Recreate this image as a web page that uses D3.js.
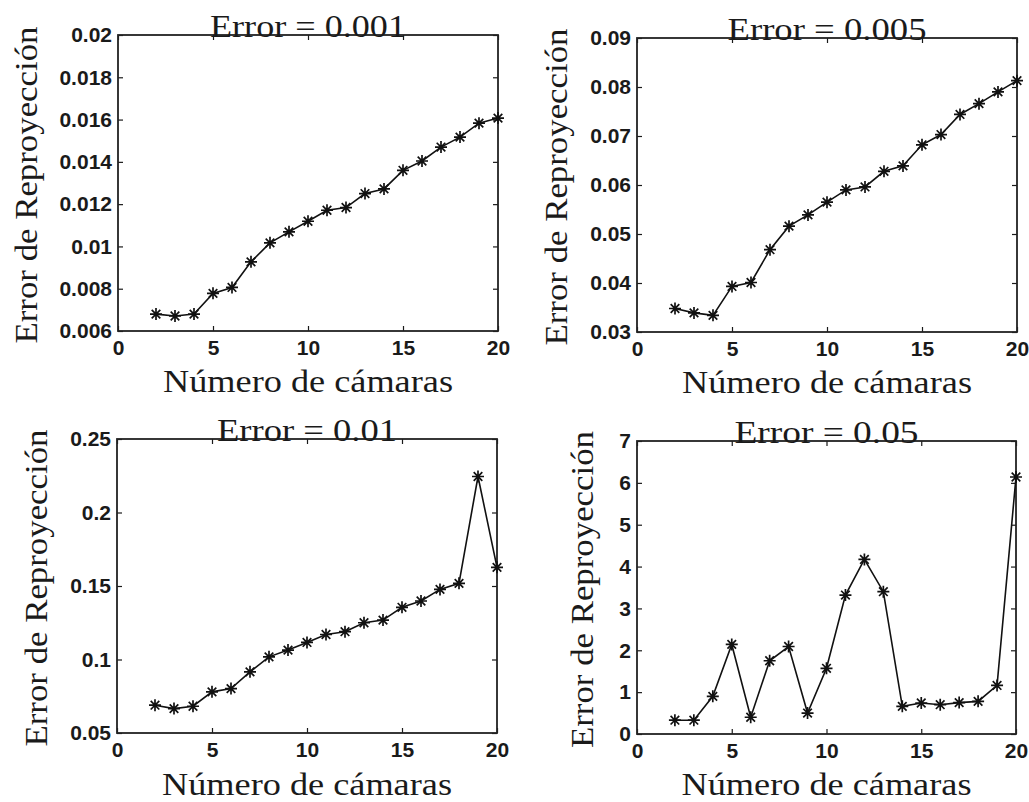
<!DOCTYPE html>
<html>
<head>
<meta charset="utf-8">
<script src="https://cdn.jsdelivr.net/npm/d3@7"></script>
<style>
  body { margin: 0; background: #fff; }
  svg { display: block; }
</style>
</head>
<body>
<script>
// numero de camaras en cada prueba
const camaras = [2, 3, 4, 5, 6, 7, 8, 9, 10, 11, 12, 13, 14, 15, 16, 17, 18, 19, 20];

// error de reproyeccion medio para cada nivel de ruido
const err0001 = [0.0068, 0.00671, 0.0068, 0.00778, 0.00806, 0.00927, 0.01017, 0.01069, 0.01119, 0.01171,
                 0.01184, 0.0125, 0.01272, 0.0136, 0.01404, 0.0147, 0.01517, 0.01583, 0.01607];
const err0005 = [0.0348, 0.0339, 0.0334, 0.0393, 0.0401, 0.0468, 0.0516, 0.0539, 0.0565, 0.0590,
                 0.0596, 0.0628, 0.0639, 0.0682, 0.0703, 0.0744, 0.0766, 0.0790, 0.0813];
const err001  = [0.0689, 0.0666, 0.0682, 0.0780, 0.0802, 0.0916, 0.1018, 0.1064, 0.1116, 0.1170,
                 0.1189, 0.1250, 0.1268, 0.1355, 0.1398, 0.1477, 0.1518, 0.2245, 0.1627];
const err005  = [0.33, 0.33, 0.90, 2.14, 0.40, 1.75, 2.09, 0.50, 1.57, 3.32,
                 4.17, 3.40, 0.66, 0.74, 0.70, 0.75, 0.78, 1.16, 6.14];

const titulos = ["Error = 0.001", "Error = 0.005", "Error = 0.01", "Error = 0.05"];

const xTicks = [0, 5, 10, 15, 20];
const xTickLabels = ["0", "5", "10", "15", "20"];

const yTicks0001 = [0.006, 0.008, 0.01, 0.012, 0.014, 0.016, 0.018, 0.02];
const yLabels0001 = ["0.006", "0.008", "0.01", "0.012", "0.014", "0.016", "0.018", "0.02"];
const yTicks0005 = [0.03, 0.04, 0.05, 0.06, 0.07, 0.08, 0.09];
const yLabels0005 = ["0.03", "0.04", "0.05", "0.06", "0.07", "0.08", "0.09"];
const yTicks001 = [0.05, 0.1, 0.15, 0.2, 0.25];
const yLabels001 = ["0.05", "0.1", "0.15", "0.2", "0.25"];
const yTicks005 = [0, 1, 2, 3, 4, 5, 6, 7];
const yLabels005 = ["0", "1", "2", "3", "4", "5", "6", "7"];

const xLabel = "Número de cámaras";
const yLabel = "Error de Reproyección";

const width = 1029, height = 802;

const svg = d3.select("body").append("svg")
  .attr("width", width)
  .attr("height", height);

// marcador '*' de matlab
const star = "M-6,0H6M0,-6V6M-4.3,-4.3L4.3,4.3M-4.3,4.3L4.3,-4.3";

const serif = "'Liberation Serif', 'Times New Roman', serif";
const sans = "'Liberation Sans', Arial, Helvetica, sans-serif";
const ink = "#1a1a1a";

const paneles = [
  { box: [118, 35, 498, 331], y: err0001, ticks: yTicks0001, labels: yLabels0001, ylx: 37 },
  { box: [637, 38, 1017, 332], y: err0005, ticks: yTicks0005, labels: yLabels0005, ylx: 567 },
  { box: [117, 439, 497, 733], y: err001, ticks: yTicks001, labels: yLabels001, ylx: 47 },
  { box: [637, 441, 1016, 734], y: err005, ticks: yTicks005, labels: yLabels005, ylx: 593 }
];

paneles.forEach((p, i) => {
  const [x0, y0, x1, y1] = p.box;
  const w = x1 - x0, h = y1 - y0;

  const x = d3.scaleLinear().domain([0, 20]).range([0, w]);
  const y = d3.scaleLinear().domain(d3.extent(p.ticks)).range([h, 0]);

  const g = svg.append("g").attr("transform", `translate(${x0},${y0})`);

  const fx = d => xTickLabels[xTicks.indexOf(d)];
  const fy = d => p.labels[p.ticks.indexOf(d)];

  // ejes con marcas hacia dentro
  const ax = [
    g.append("g").attr("transform", `translate(0,${h})`)
      .call(d3.axisBottom(x).tickValues(xTicks).tickFormat(fx).tickSizeInner(-5).tickSizeOuter(0).tickPadding(9)),
    g.append("g")
      .call(d3.axisTop(x).tickValues(xTicks).tickFormat("").tickSizeInner(-5).tickSizeOuter(0)),
    g.append("g")
      .call(d3.axisLeft(y).tickValues(p.ticks).tickFormat(fy).tickSizeInner(-5).tickSizeOuter(0).tickPadding(6)),
    g.append("g").attr("transform", `translate(${w},0)`)
      .call(d3.axisRight(y).tickValues(p.ticks).tickFormat("").tickSizeInner(-5).tickSizeOuter(0))
  ];
  ax.forEach(a => {
    a.select(".domain").remove();
    a.selectAll(".tick line").attr("stroke", ink).attr("stroke-width", 1.2);
    a.selectAll(".tick text")
      .attr("fill", ink)
      .style("font-family", sans)
      .style("font-size", "21px")
      .style("font-weight", "bold");
  });

  // marco
  g.append("rect")
    .attr("width", w).attr("height", h)
    .attr("fill", "none")
    .attr("stroke", "#222")
    .attr("stroke-width", 1.8);

  const pts = camaras.map((c, k) => [c, p.y[k]]);

  g.append("path")
    .datum(pts)
    .attr("fill", "none")
    .attr("stroke", "#111")
    .attr("stroke-width", 1.6)
    .attr("d", d3.line().x(d => x(d[0])).y(d => y(d[1])));

  g.selectAll(".mk")
    .data(pts)
    .join("path")
    .attr("class", "mk")
    .attr("transform", d => `translate(${x(d[0])},${y(d[1])})`)
    .attr("d", star)
    .attr("stroke", "#111")
    .attr("stroke-width", 1.7)
    .attr("fill", "none");

  // titulo
  svg.append("text")
    .attr("x", x0 + w / 2)
    .attr("y", y0 + 2)
    .attr("text-anchor", "middle")
    .attr("textLength", [196, 199, 180, 184][i])
    .attr("lengthAdjust", "spacingAndGlyphs")
    .attr("fill", ink)
    .style("font-family", serif)
    .style("font-size", "32px")
    .text(titulos[i]);

  // etiqueta del eje x
  svg.append("text")
    .attr("x", x0 + w / 2)
    .attr("y", i < 2 ? y1 + 61 : 795)
    .attr("text-anchor", "middle")
    .attr("textLength", 290)
    .attr("lengthAdjust", "spacingAndGlyphs")
    .attr("fill", ink)
    .style("font-family", serif)
    .style("font-size", "32px")
    .text(xLabel);

  // etiqueta del eje y
  svg.append("text")
    .attr("transform", `translate(${p.ylx},${y0 + h / 2 + 2}) rotate(-90)`)
    .attr("text-anchor", "middle")
    .attr("textLength", 317)
    .attr("lengthAdjust", "spacingAndGlyphs")
    .attr("fill", ink)
    .style("font-family", serif)
    .style("font-size", "32px")
    .text(yLabel);
});
</script>
</body>
</html>
